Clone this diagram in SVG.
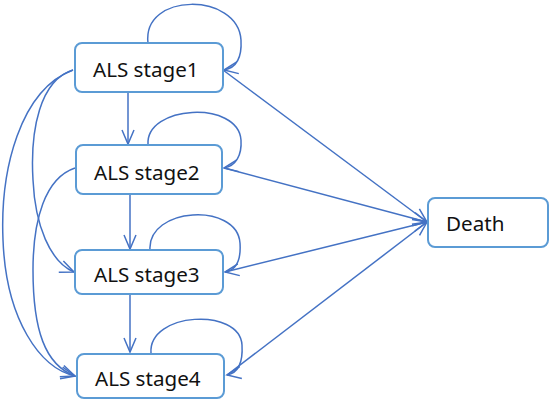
<svg xmlns="http://www.w3.org/2000/svg" width="550" height="400" viewBox="0 0 550 400">
<style>
.box{fill:#ffffff;stroke:#5B9BD5;stroke-width:2}
.lbl{font-family:"Noto Sans","Open Sans",sans-serif;font-size:20.6px;fill:#111111}
.edge{fill:none;stroke:#4472C4;stroke-width:1.5;marker-end:url(#arr)}
</style>
<defs>
<marker id="arr" markerUnits="userSpaceOnUse" markerWidth="18" markerHeight="16" refX="15" refY="7" orient="auto" overflow="visible">
<path d="M1,1 L15,7 L1,13" fill="none" stroke="#4472C4" stroke-width="1.5"/>
</marker>
</defs>
<rect width="550" height="400" fill="#ffffff"/>
<g id="connectors">
<!-- self loops -->
<path class="edge" d="M148,43 C142,-8 238,-8 241,40 C242,58 236,68 224,70"/>
<path class="edge" d="M148,145 C145,105 238,100 241,140 C242,155 236,166 224,168"/>
<path class="edge" d="M150,250 C147,207 237,202 240,243 C241,258 237,270 225,272"/>
<path class="edge" d="M151,353 C148,312 240,307 242,345 C243,362 238,373 227,375"/>
<!-- vertical -->
<path class="edge" d="M128,92 L128,144"/>
<path class="edge" d="M130,194 L130,249"/>
<path class="edge" d="M130,294 L130,352"/>
<!-- left curves -->
<path class="edge" d="M73,70 C40,80 30,130 33,180 C35,225 50,262 74,272"/>
<path class="edge" d="M73,70 C20,90 0,170 3,240 C6,320 40,368 75,376"/>
<path class="edge" d="M75,168 C45,178 33,220 33,270 C33,330 45,365 75,376"/>
<!-- to Death -->
<path class="edge" d="M223,70 L427,222"/>
<path class="edge" d="M224,168 L427,222"/>
<path class="edge" d="M225,272 L427,222"/>
<path class="edge" d="M227,375 L427,222"/>
</g>
<g id="stage1">
<rect class="box" x="75" y="43" width="148" height="49" rx="7"/>
<text class="lbl" x="93" y="77">ALS stage1</text>
</g>
<g id="stage2">
<rect class="box" x="76" y="145" width="146" height="49" rx="7"/>
<text class="lbl" x="94" y="180">ALS stage2</text>
</g>
<g id="stage3">
<rect class="box" x="75" y="250" width="148" height="44" rx="7"/>
<text class="lbl" x="94" y="282">ALS stage3</text>
</g>
<g id="stage4">
<rect class="box" x="77" y="354" width="147" height="44" rx="7"/>
<text class="lbl" x="95" y="386">ALS stage4</text>
</g>
<g id="death">
<rect class="box" x="428" y="198" width="120" height="49" rx="7"/>
<text class="lbl" x="446" y="231">Death</text>
</g>
</svg>
